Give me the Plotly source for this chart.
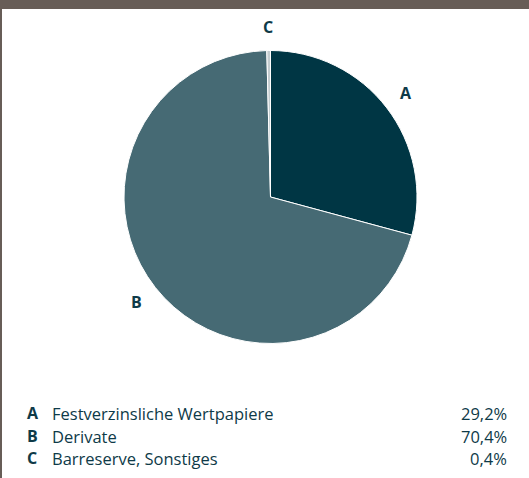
import math
import plotly.graph_objects as go

letters = ["A", "B", "C"]
names = ["Festverzinsliche Wertpapiere", "Derivate", "Barreserve, Sonstiges"]
values = [29.2, 70.4, 0.4]
value_labels = ["29,2%", "70,4%", "0,4%"]
colors = ["#003644", "#466a74", "#c3cccf"]

W, H = 529, 478
cx, cy, r = 270.5, 197.0, 146.5  # pixel geometry of the pie
text_color = "#0e3a48"
font = "Open Sans, Noto Sans, sans-serif"

fig = go.Figure(go.Pie(
    values=values, labels=letters, sort=False, direction="clockwise", rotation=0,
    marker=dict(colors=colors, line=dict(color="white", width=1)),
    textinfo="none", hoverinfo="label+percent", showlegend=False,
    domain=dict(x=[(cx - r) / W, (cx + r) / W], y=[(H - cy - r) / H, (H - cy + r) / H]),
))

annotations = []
total = sum(values)
cum = 0.0
for letter, v in zip(letters, values):
    mid = (cum + v / 2) / total * 2 * math.pi
    cum += v
    lr = r + 24
    px = cx + lr * math.sin(mid)
    py = cy - lr * math.cos(mid)
    annotations.append(dict(x=px / W, y=1 - py / H, xref="paper", yref="paper",
                            text="<b>%s</b>" % letter, showarrow=False,
                            font=dict(family=font, size=16, color=text_color),
                            xanchor="center", yanchor="middle"))

row_y = [413, 436, 458]
for letter, name, vl, yy in zip(letters, names, value_labels, row_y):
    annotations.append(dict(x=25 / W, y=1 - yy / H, xref="paper", yref="paper",
                            text="<b>%s</b>" % letter, showarrow=False,
                            font=dict(family=font, size=16, color=text_color),
                            xanchor="left", yanchor="middle"))
    annotations.append(dict(x=50 / W, y=1 - yy / H, xref="paper", yref="paper",
                            text=name, showarrow=False,
                            font=dict(family=font, size=16.5, color=text_color),
                            xanchor="left", yanchor="middle"))
    annotations.append(dict(x=509 / W, y=1 - yy / H, xref="paper", yref="paper",
                            text=vl, showarrow=False,
                            font=dict(family=font, size=16.5, color=text_color),
                            xanchor="right", yanchor="middle"))

shapes = [
    dict(type="rect", xref="paper", yref="paper", x0=0, x1=1, y0=1 - 9 / H, y1=1,
         fillcolor="#675d57", line=dict(width=0), layer="above"),
    dict(type="rect", xref="paper", yref="paper", x0=0, x1=2 / W, y0=0, y1=1,
         fillcolor="#675d57", line=dict(width=0), layer="above"),
]

fig.update_layout(
    width=W, height=H, margin=dict(l=0, r=0, t=0, b=0),
    paper_bgcolor="white", plot_bgcolor="white",
    annotations=annotations, shapes=shapes,
)
fig.write_html("out.html")
